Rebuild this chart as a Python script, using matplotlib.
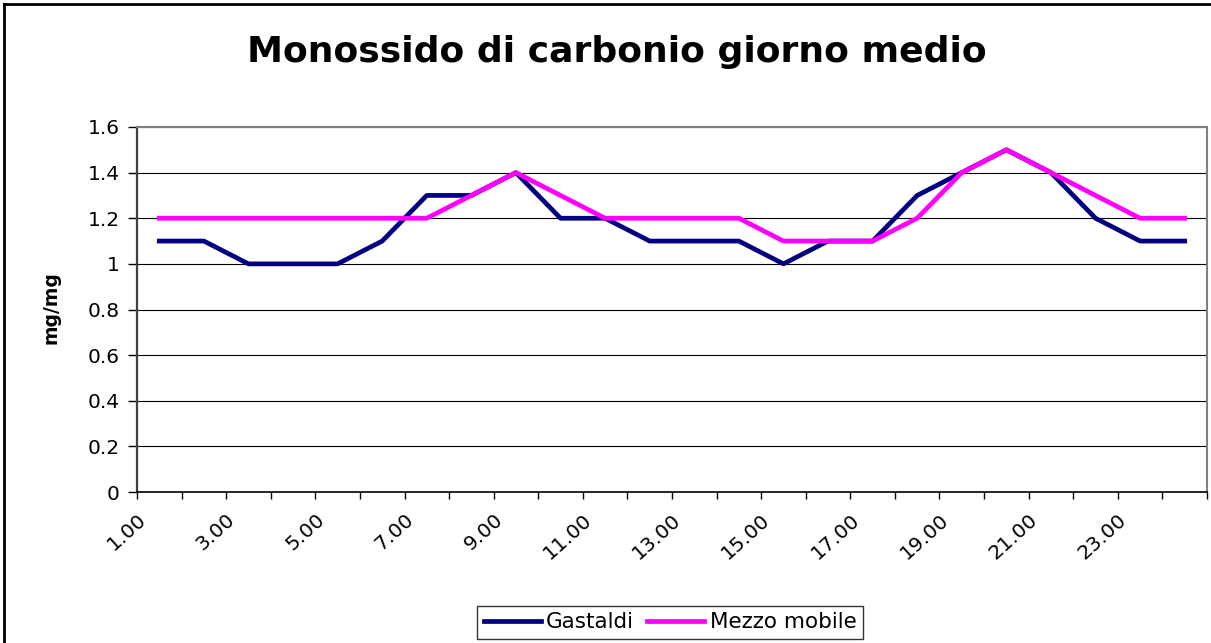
import numpy as np
import matplotlib.pyplot as plt
from matplotlib.lines import Line2D

plt.rcParams['font.family'] = ['DejaVu Sans']

# Hourly averages (24 hours)
hours = [f"{h}.00" for h in range(1, 25)]
gastaldi = [1.1, 1.1, 1.0, 1.0, 1.0, 1.1, 1.3, 1.3, 1.4, 1.2, 1.2, 1.1,
            1.1, 1.1, 1.0, 1.1, 1.1, 1.3, 1.4, 1.5, 1.4, 1.2, 1.1, 1.1]
mezzo_mobile = [1.2, 1.2, 1.2, 1.2, 1.2, 1.2, 1.2, 1.3, 1.4, 1.3, 1.2, 1.2,
                1.2, 1.2, 1.1, 1.1, 1.1, 1.2, 1.4, 1.5, 1.4, 1.3, 1.2, 1.2]
y_ticks = [0, 0.2, 0.4, 0.6, 0.8, 1, 1.2, 1.4, 1.6]

W, H = 1211, 643
fig = plt.figure(figsize=(W / 100, H / 100), dpi=100)
ax = fig.add_axes([137 / W, 1 - 492 / H, (1207 - 137) / W, (492 - 127) / H])

x = np.arange(len(hours)) + 0.5
ax.plot(x, gastaldi, color='#000080', lw=3.4, label='Gastaldi', zorder=3)
ax.plot(x, mezzo_mobile, color='#FF00FF', lw=3.4, label='Mezzo mobile', zorder=4)

ax.set_xlim(0, len(hours))
ax.set_ylim(0, 1.6)

# x axis: tick at every category edge, labels every other hour
ax.set_xticks(np.arange(0, len(hours) + 1), minor=True)
ax.set_xticks(np.arange(0, len(hours), 2))
ax.set_xticklabels(hours[::2], rotation=42, ha='right', va='top',
                   rotation_mode='anchor', fontsize=14.5)
ax.tick_params(axis='x', which='both', length=5, width=1, color='black', pad=8)

ax.set_yticks(y_ticks)
ax.set_yticklabels([f"{v:g}" for v in y_ticks], fontsize=14.5)
ax.tick_params(axis='y', length=6.5, width=1, color='black', pad=6)

ax.grid(axis='y', color='black', lw=0.8)
ax.set_axisbelow(True)

ax.spines['left'].set_color('#404040')
ax.spines['left'].set_linewidth(1.6)
ax.spines['bottom'].set_color('black')
ax.spines['bottom'].set_linewidth(1.2)
for s in ('top', 'right'):
    ax.spines[s].set_color('#808080')
    ax.spines[s].set_linewidth(1.5)

ax.set_ylabel('mg/mg', fontsize=13.5, fontweight='bold')
ax.yaxis.set_label_coords((61 - 137) / (1207 - 137), (492 - 308) / (492 - 127))

fig.text(617 / W, 1 - 52 / H, 'Monossido di carbonio giorno medio',
         ha='center', va='center', fontsize=26, fontweight='bold')

leg = fig.legend(loc='upper center', bbox_to_anchor=(670 / W, 1 - 606 / H),
                 ncol=2, fontsize=15.5, frameon=True, fancybox=False,
                 handlelength=2.65, handletextpad=0.25, columnspacing=0.6,
                 borderpad=0.3, borderaxespad=0)
leg.get_frame().set_edgecolor('black')
leg.get_frame().set_linewidth(1.0)

# outer chart border (left and top visible)
fig.add_artist(Line2D([4 / W, 4 / W], [0, 1 - 4 / H], color='black', lw=2))
fig.add_artist(Line2D([4 / W, 1], [1 - 4 / H, 1 - 4 / H], color='black', lw=2))

fig.savefig('out.png', dpi=100)
